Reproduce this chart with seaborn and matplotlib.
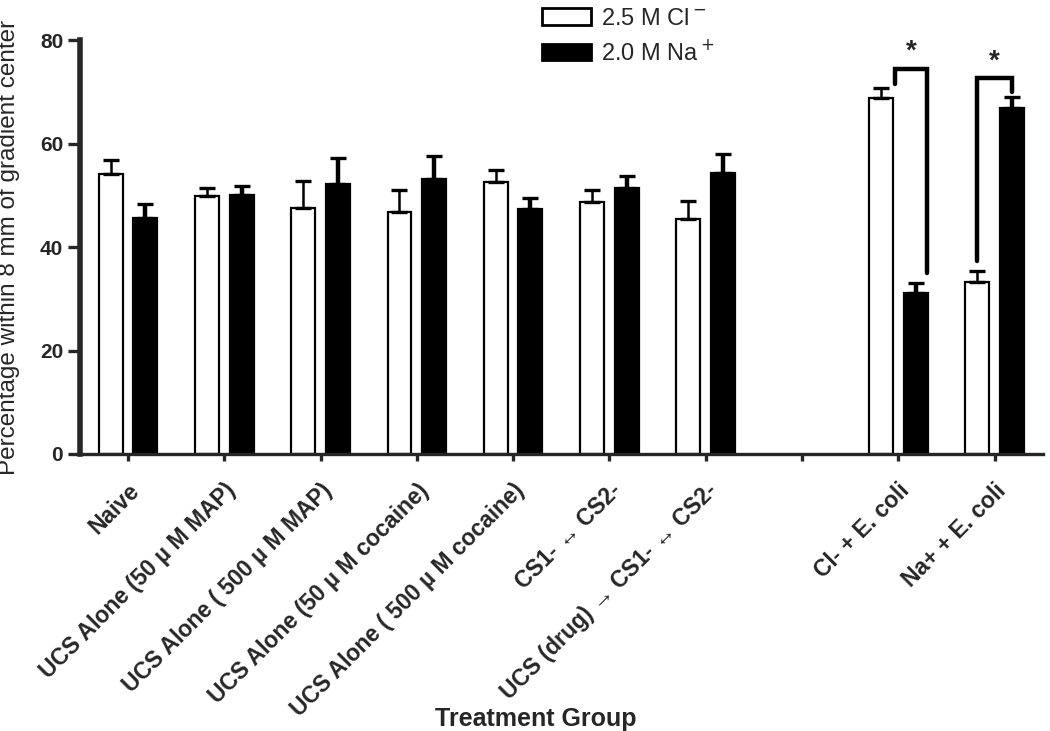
import numpy as np
import pandas as pd
import matplotlib
matplotlib.use("Agg")
import matplotlib.pyplot as plt
import seaborn as sns

# ------------------------------------------------------
# Data
# ------------------------------------------------------
groups = [
    "Naive",
    "UCS Alone (50 µ M MAP)",
    "UCS Alone ( 500 µ M MAP)",
    "UCS Alone (50 µ M cocaine)",
    "UCS Alone ( 500 µ M cocaine)",
    "CS1- ↔ CS2-",
    "UCS (drug) → CS1- ↔ CS2-",
    " ",
    "Cl- + E. coli",
    "Na+ + E. coli",
]
data_groups = [g for g in groups if g != " "]

conditions = ["2.5 M Cl$^-$", "2.0 M Na$^+$"]

cl_mean = [54.2, 49.8, 47.5, 46.8, 52.6, 48.7, 45.5, 68.8, 33.2]
cl_sem = [2.7, 1.6, 5.3, 4.2, 2.3, 2.3, 3.4, 1.9, 2.2]
na_mean = [45.7, 50.1, 52.2, 53.1, 47.3, 51.5, 54.3, 31.1, 66.9]
na_sem = [2.6, 1.7, 5.1, 4.5, 2.2, 2.3, 3.7, 1.9, 2.1]

# significance brackets: (group, top, left leg end, right leg end)
sig_groups = ["Cl- + E. coli", "Na+ + E. coli"]
sig_top = [74.4, 72.6]
sig_left_end = [71.5, 37.4]
sig_right_end = [34.9, 69.9]

df = pd.DataFrame({
    "group": data_groups * 2,
    "condition": [conditions[0]] * len(data_groups) + [conditions[1]] * len(data_groups),
    "value": cl_mean + na_mean,
    "sem": cl_sem + na_sem,
})

# ------------------------------------------------------
# Plot
# ------------------------------------------------------
sns.set_style("ticks")
plt.rcParams["font.family"] = ["Liberation Sans", "DejaVu Sans"]

fig = plt.figure(figsize=(10.5, 7.31), dpi=100)
ax = fig.add_axes([0.076, 0.379, 0.917, 0.566])

sns.barplot(
    data=df, x="group", y="value", hue="condition",
    order=groups, hue_order=conditions,
    palette={conditions[0]: "white", conditions[1]: "black"},
    edgecolor="black", linewidth=1.6,
    width=0.72, gap=0.31, errorbar=None, ax=ax,
)

# one-sided SEM bars
for cont, cond in zip(ax.containers, conditions):
    sub = df[df["condition"] == cond].set_index("group")
    lw = 1.8 if cond == conditions[0] else 3.2
    for bar in cont:
        xc = bar.get_x() + bar.get_width() / 2
        g = groups[int(round(xc))]
        h = sub.loc[g, "value"]
        e = sub.loc[g, "sem"]
        ax.errorbar(xc, h, yerr=[[0], [e]], fmt="none", ecolor="black",
                    elinewidth=lw, capsize=6, capthick=2.4, zorder=3)

# significance brackets
for g, top, le, re in zip(sig_groups, sig_top, sig_left_end, sig_right_end):
    i = groups.index(g)
    if g.startswith("Cl"):
        xl, xr = i - 0.03, i + 0.30
    else:
        xl, xr = i - 0.18, i + 0.18
    ax.plot([xl, xl, xr, xr], [le, top, top, re], color="black",
            lw=3.2, solid_joinstyle="miter", clip_on=False)
    ax.text((xl + xr) / 2, top + 0.8, "*", ha="center", va="bottom",
            fontsize=20, fontweight="bold", clip_on=False)

ax.set_xlim(-0.5, 9.5)
ax.set_ylim(0, 80)
ax.set_yticks([0, 20, 40, 60, 80])

sns.despine(ax=ax)
ax.spines["left"].set_linewidth(4)
ax.spines["bottom"].set_linewidth(2.4)

ax.tick_params(axis="y", length=9, width=2.4, labelsize=15, pad=3)
ax.tick_params(axis="x", length=5, width=2.4, labelsize=16.5, pad=13)
for lab in ax.get_yticklabels():
    lab.set_fontweight("bold")
ax.set_xticks(range(len(groups)))
ax.set_xticklabels(groups, rotation=45, ha="right", rotation_mode="anchor",
                   fontweight="bold")

ax.set_xlabel("")
ax.set_ylabel("Percentage within 8 mm of gradient center", fontsize=17.5, labelpad=2)
ax.yaxis.set_label_coords(-0.062, 0.5)
fig.text(536 / 1050, 0.0, "Treatment Group", ha="center", va="bottom",
         fontsize=18, fontweight="bold")

sns.move_legend(
    ax, "upper left", bbox_to_anchor=(525 / 1050, 1.012),
    bbox_transform=fig.transFigure, frameon=False, title=None,
    fontsize=17, handlelength=2.1, handleheight=0.7, labelspacing=0.45,
    handletextpad=0.4, borderpad=0.2,
)
for p in ax.get_legend().get_patches():
    p.set_linewidth(2)

fig.savefig("out.png", dpi=100)
